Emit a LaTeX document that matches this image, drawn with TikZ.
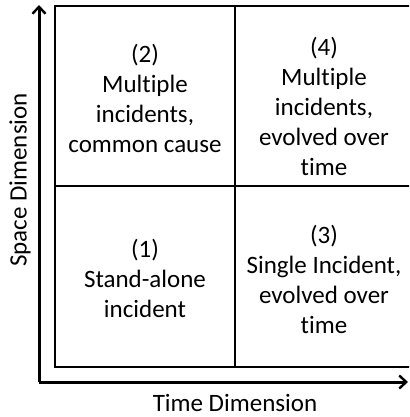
\documentclass[tikz,border=0pt]{standalone}
\usepackage{fontspec}
\setmainfont{Carlito}[Ligatures=NoCommon]
\usetikzlibrary{arrows.meta}
\begin{document}
\begin{tikzpicture}[x=1pt,y=-1pt,
  grid/.style={line width=2.4pt},
  axis/.style={line width=3pt,-{Straight Barb[length=7pt,width=13pt,line width=2.4pt]}},
  cell/.style={align=center,font=\fontsize{25}{30}\selectfont,inner sep=0pt},
  axislabel/.style={font=\fontsize{25}{30}\selectfont,inner sep=0pt}]
  \path[use as bounding box] (0,0) rectangle (409,417);
  \clip (0,0) rectangle (409,417);
  % quadrant grid
  \draw[grid] (55,6) rectangle (413,367);
  \draw[grid] (235,6) -- (235,367);
  \draw[grid] (55,186) -- (413,186);
  % axes
  \coordinate (origin) at (39,382);
  \coordinate (ytip) at (39,5);
  \coordinate (xtip) at (408,382);
  \draw[axis] (origin) -- (ytip);
  \draw[axis] (origin) -- (xtip);
  \node[axislabel,rotate=90] (space) at (20,180) {Space Dimension};
  \node[axislabel] (time) at (235,403) {Time Dimension};
  % quadrant texts
  \node[cell] (q2) at (145,98) {(2)\\Multiple\\incidents,\\common cause};
  \node[cell] (q4) at (324,106) {(4)\\Multiple\\incidents,\\evolved over\\time};
  \node[cell] (q1) at (145,278) {(1)\\Stand-alone\\incident};
  \node[cell] (q3) at (324,279) {(3)\\Single Incident,\\evolved over\\time};
\end{tikzpicture}
\end{document}
